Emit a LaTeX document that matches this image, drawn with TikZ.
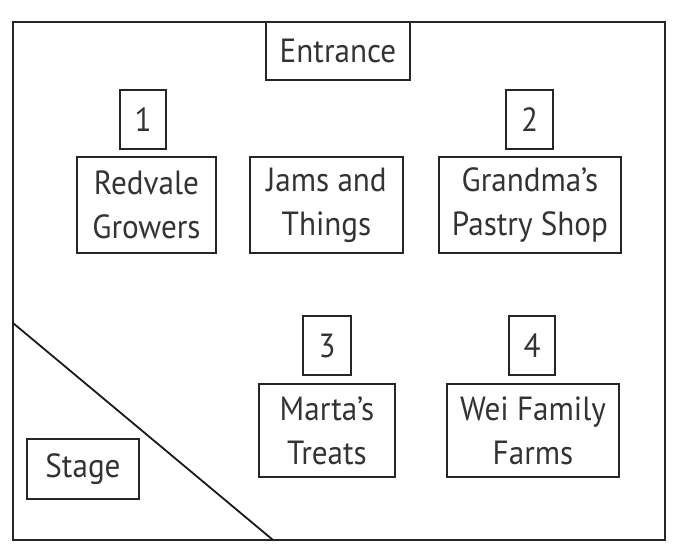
\documentclass[tikz,border=0pt]{standalone}
\usepackage{fontspec}
\setmainfont[FakeStretch=0.93]{PT Sans}
\begin{document}
\begin{tikzpicture}[x=1pt,y=-1pt,
  box/.style={draw=black!85, line width=1.6pt, inner sep=0pt, align=center,
    text=black!80, font=\fontsize{33.5}{44}\selectfont},
]
\useasboundingbox (0,0) rectangle (676,557);
\draw[line width=1.6pt, black!85] (13,22) rectangle (665,540);
\coordinate (d1) at (13,323);
\coordinate (d2) at (273,540);
\draw[line width=1.8pt, black!90] (d1) -- (d2);
\node[box, minimum width=144pt, minimum height=58pt] (entrance) at (338,51) {Entrance};
\node[box, minimum width=46pt, minimum height=59pt] (n1) at (143,119.5) {1};
\node[box, minimum width=47pt, minimum height=59pt] (n2) at (529.5,119.5) {2};
\node[box, minimum width=139pt, minimum height=96pt] (redvale) at (146.5,205) {Redvale\\Growers};
\node[box, minimum width=153pt, minimum height=96pt] (jams) at (326.5,205) {Jams and\\Things};
\node[box, minimum width=182pt, minimum height=96pt] (grandma) at (530,205) {Grandma’s\\Pastry Shop};
\node[box, minimum width=48pt, minimum height=59pt] (n3) at (327,345.5) {3};
\node[box, minimum width=46pt, minimum height=59pt] (n4) at (532,345.5) {4};
\node[box, minimum width=136pt, minimum height=93pt] (marta) at (327,430.5) {Marta’s\\Treats};
\node[box, minimum width=172pt, minimum height=93pt] (wei) at (533,430.5) {Wei Family\\Farms};
\node[box, minimum width=112pt, minimum height=60pt] (stage) at (83,469) {Stage};
\end{tikzpicture}
\end{document}
